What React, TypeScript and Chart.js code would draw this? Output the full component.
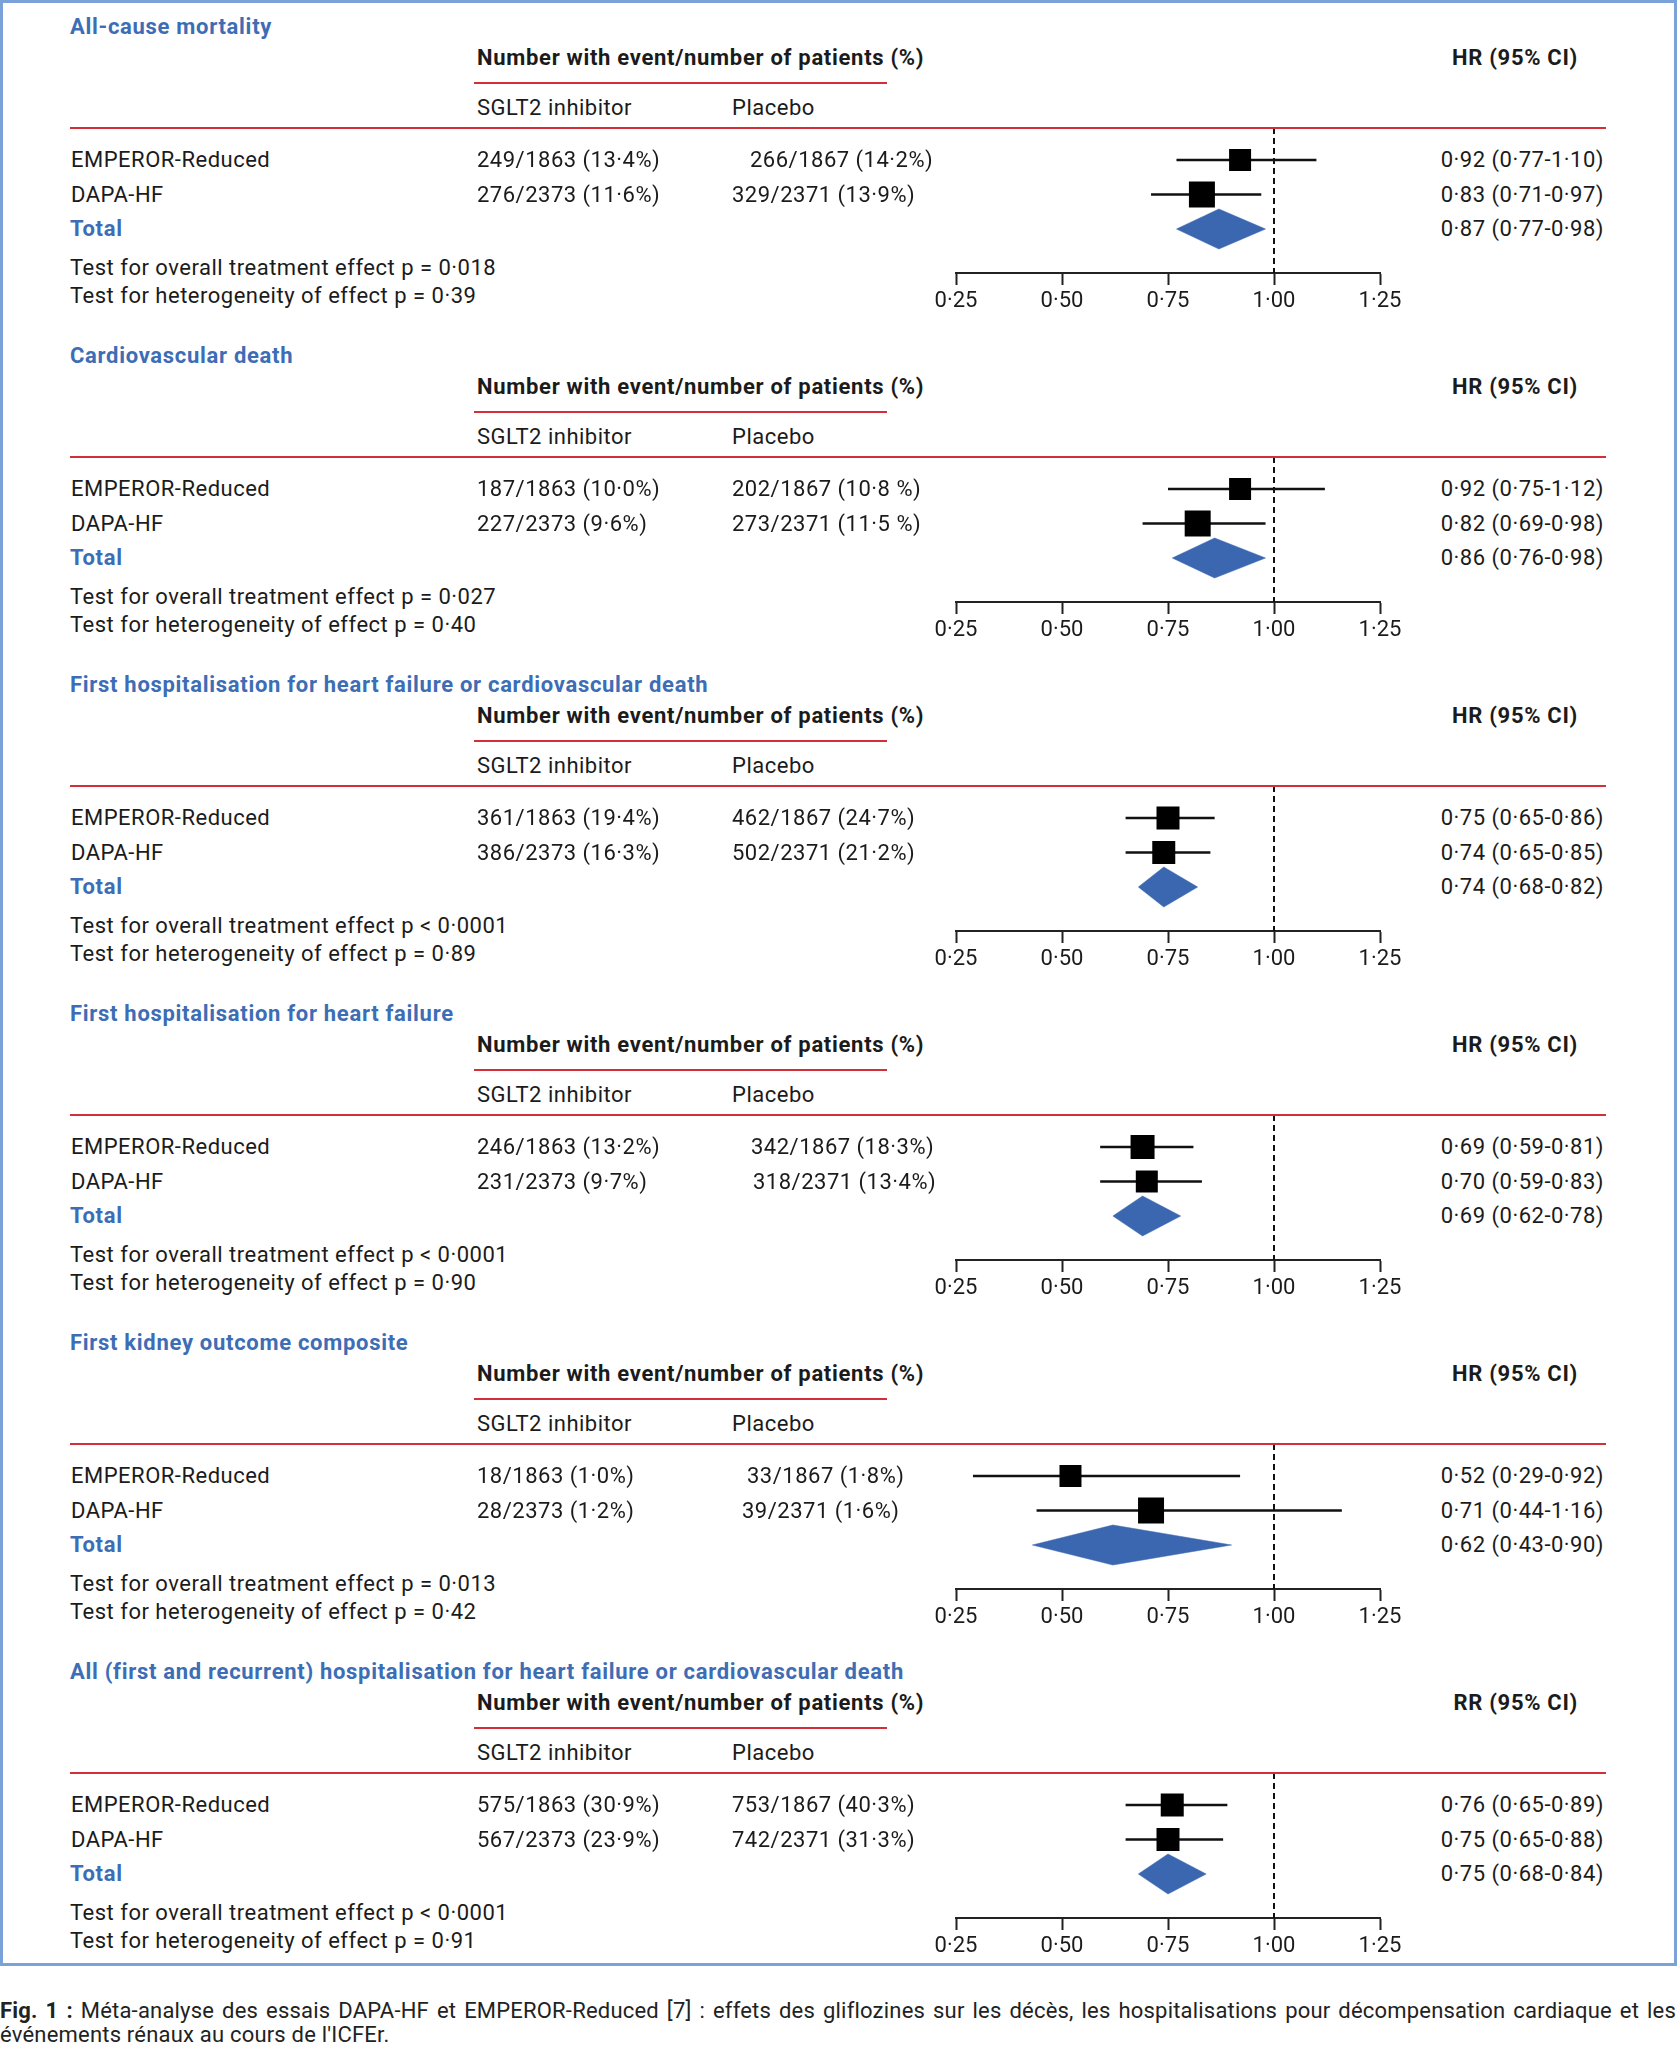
import React, { useEffect, useRef } from "react";
import { Chart, registerables } from "chart.js";

Chart.register(...registerables);

// ---------------- DATA ----------------
const outcomeTitles = [
  "All-cause mortality",
  "Cardiovascular death",
  "First hospitalisation for heart failure or cardiovascular death",
  "First hospitalisation for heart failure",
  "First kidney outcome composite",
  "All (first and recurrent) hospitalisation for heart failure or cardiovascular death",
];
const effectLabels = ["HR", "HR", "HR", "HR", "HR", "RR"];
const studyNames = ["EMPEROR-Reduced", "DAPA-HF"];
const totalLabel = "Total";
const groupHeader = "Number with event/number of patients (%)";
const armLabels = ["SGLT2 inhibitor", "Placebo"];

const sgltEvents = [
  ["249/1863 (13·4%)", "276/2373 (11·6%)"],
  ["187/1863 (10·0%)", "227/2373 (9·6%)"],
  ["361/1863 (19·4%)", "386/2373 (16·3%)"],
  ["246/1863 (13·2%)", "231/2373 (9·7%)"],
  ["18/1863 (1·0%)", "28/2373 (1·2%)"],
  ["575/1863 (30·9%)", "567/2373 (23·9%)"],
];
const placeboEvents = [
  ["266/1867 (14·2%)", "329/2371 (13·9%)"],
  ["202/1867 (10·8 %)", "273/2371 (11·5 %)"],
  ["462/1867 (24·7%)", "502/2371 (21·2%)"],
  ["342/1867 (18·3%)", "318/2371 (13·4%)"],
  ["33/1867 (1·8%)", "39/2371 (1·6%)"],
  ["753/1867 (40·3%)", "742/2371 (31·3%)"],
];

// [EMPEROR-Reduced, DAPA-HF, Total]
const hrEstimate = [
  [0.92, 0.83, 0.87],
  [0.92, 0.82, 0.86],
  [0.75, 0.74, 0.74],
  [0.69, 0.7, 0.69],
  [0.52, 0.71, 0.62],
  [0.76, 0.75, 0.75],
];
const hrLower = [
  [0.77, 0.71, 0.77],
  [0.75, 0.69, 0.76],
  [0.65, 0.65, 0.68],
  [0.59, 0.59, 0.62],
  [0.29, 0.44, 0.43],
  [0.65, 0.65, 0.68],
];
const hrUpper = [
  [1.1, 0.97, 0.98],
  [1.12, 0.98, 0.98],
  [0.86, 0.85, 0.82],
  [0.81, 0.83, 0.78],
  [0.92, 1.16, 0.9],
  [0.89, 0.88, 0.84],
];

const overallP = ["p = 0·018", "p = 0·027", "p < 0·0001", "p < 0·0001", "p = 0·013", "p < 0·0001"];
const heterogeneityP = ["p = 0·39", "p = 0·40", "p = 0·89", "p = 0·90", "p = 0·42", "p = 0·91"];

const axisTicks = [0.25, 0.5, 0.75, 1.0, 1.25];
const nullValue = 1.0;

const captionBold = "Fig. 1 :";
const captionLine1 =
  " Méta-analyse des essais DAPA-HF et EMPEROR-Reduced [7] : effets des gliflozines sur les décès, les hospitalisations pour décompensation cardiaque et les";
const captionLine2 = "événements rénaux au cours de l'ICFEr.";

// ---------------- STYLE / LAYOUT ----------------
const FONT = "Roboto, 'Noto Sans', sans-serif";
const FS = 22;
const LS = 0.5;
const LS_BOLD = 0.7;
const BLUE = "#3d6db5";
const DIAMOND = "#3b67b0";
const RED = "#d22f3b";
const INK = "#1b1b1b";
const BORDER = "#7aa2d8";

const PANEL_STEP = 329;
const ROW_STEP = 34.5;
const ROW0 = 160;
const RULE_Y = 128;
const AXIS_Y = 273;
const squareSide = [
  [22, 26],
  [22, 26],
  [23, 23],
  [24, 22],
  [22, 26],
  [23, 23],
];
const placeboX = [
  [750, 732],
  [732, 732],
  [732, 732],
  [751, 753],
  [747, 742],
  [732, 732],
];

const CANVAS_LEFT = 900;
const CANVAS_W = 536;
const PAD_X = 56;
const AXIS_H = 45;
const CHART_AREA_H = AXIS_Y - RULE_Y;
const CANVAS_H = CHART_AREA_H + AXIS_H;

const fmt = (v: number) => v.toFixed(2).replace(".", "·");

function Txt(props: {
  x: number;
  y: number;
  children: React.ReactNode;
  weight?: number;
  color?: string;
  align?: "left" | "right";
  size?: number;
}) {
  const lh = 28;
  const bold = (props.weight ?? 400) >= 600;
  const style: React.CSSProperties = {
    position: "absolute",
    top: props.y - lh / 2,
    lineHeight: lh + "px",
    fontSize: props.size ?? FS,
    fontWeight: props.weight ?? 400,
    letterSpacing: bold ? LS_BOLD : LS,
    color: props.color ?? INK,
    whiteSpace: "nowrap",
  };
  if (props.align === "right") style.right = 1678 - props.x;
  else style.left = props.x;
  return <div style={style}>{props.children}</div>;
}

function Rule(props: { x: number; y: number; w: number }) {
  return (
    <div
      style={{
        position: "absolute",
        left: props.x,
        top: props.y - 1.25,
        width: props.w,
        height: 2.5,
        background: RED,
      }}
    />
  );
}

function ForestChart({ idx, top }: { idx: number; top: number }) {
  const ref = useRef<HTMLCanvasElement>(null);
  useEffect(() => {
    if (!ref.current) return;
    const est = hrEstimate[idx];
    const lo = hrLower[idx];
    const hi = hrUpper[idx];
    const yMin = -(ROW0 - RULE_Y) / ROW_STEP;
    const yMax = 2 + (AXIS_Y - (ROW0 + 2 * ROW_STEP)) / ROW_STEP;
    const dh = 20 / ROW_STEP;

    const datasets: any[] = [];
    datasets.push({
      data: [0, 1].map((i) => ({ x: est[i], y: i })),
      showLine: false,
      pointStyle: "rect",
      pointRadius: squareSide[idx].map((s) => s / Math.SQRT2),
      pointBackgroundColor: "#000",
      pointBorderWidth: 0,
      borderWidth: 0,
    });
    datasets.push({
      data: [
        { x: lo[2], y: 2 },
        { x: est[2], y: 2 - dh },
        { x: hi[2], y: 2 },
      ],
      showLine: true,
      pointRadius: 0,
      borderWidth: 0.5,
      borderColor: DIAMOND,
      backgroundColor: DIAMOND,
      fill: "+1",
      tension: 0,
    });
    datasets.push({
      data: [
        { x: lo[2], y: 2 },
        { x: est[2], y: 2 + dh },
        { x: hi[2], y: 2 },
      ],
      showLine: true,
      pointRadius: 0,
      borderWidth: 0.5,
      borderColor: DIAMOND,
      fill: false,
      tension: 0,
    });
    [0, 1].forEach((i) => {
      datasets.push({
        data: [
          { x: lo[i], y: i },
          { x: hi[i], y: i },
        ],
        showLine: true,
        pointRadius: 0,
        borderColor: "#111",
        borderWidth: 2.5,
        fill: false,
      });
    });
    datasets.push({
      data: [
        { x: nullValue, y: yMin },
        { x: nullValue, y: yMax },
      ],
      showLine: true,
      pointRadius: 0,
      borderColor: "#111",
      borderWidth: 2,
      borderDash: [6, 4],
      fill: false,
    });

    const chart = new Chart(ref.current, {
      type: "line",
      data: { datasets },
      options: {
        animation: false,
        responsive: false,
        events: [],
        layout: { autoPadding: false, padding: { left: PAD_X, right: PAD_X, top: 0, bottom: 0 } },
        plugins: { legend: { display: false }, tooltip: { enabled: false } },
        scales: {
          x: {
            type: "linear",
            position: "bottom",
            min: axisTicks[0],
            max: axisTicks[axisTicks.length - 1],
            afterBuildTicks: (s: any) => {
              s.ticks = axisTicks.map((v) => ({ value: v }));
            },
            afterFit: (s: any) => {
              s.height = AXIS_H;
            },
            ticks: {
              callback: (v: any) => fmt(Number(v)),
              font: { family: FONT, size: FS },
              color: INK,
              padding: 3,
              maxRotation: 0,
              autoSkip: false,
            },
            grid: {
              drawOnChartArea: false,
              drawTicks: true,
              tickLength: 12,
              tickColor: "#222",
              tickWidth: 2,
              color: "#222",
            },
            border: { display: true, color: "#222", width: 2 },
          },
          y: {
            type: "linear",
            display: false,
            reverse: true,
            min: yMin,
            max: yMax,
          },
        },
      } as any,
    });
    return () => chart.destroy();
  }, [idx]);
  return (
    <canvas
      ref={ref}
      width={CANVAS_W}
      height={CANVAS_H}
      style={{ position: "absolute", left: CANVAS_LEFT, top, width: CANVAS_W, height: CANVAS_H }}
    />
  );
}

function Panel({ idx }: { idx: number }) {
  const P = idx * PANEL_STEP;
  const ciText = (k: number) =>
    `${fmt(hrEstimate[idx][k])} (${fmt(hrLower[idx][k])}-${fmt(hrUpper[idx][k])})`;
  return (
    <>
      <ForestChart idx={idx} top={P + RULE_Y} />
      <Txt x={70} y={P + 27} weight={700} color={BLUE}>
        {outcomeTitles[idx]}
      </Txt>
      <Txt x={477} y={P + 58} weight={700}>
        {groupHeader}
      </Txt>
      <Txt x={1578} y={P + 58} weight={700} align="right">
        {`${effectLabels[idx]} (95% CI)`}
      </Txt>
      <Rule x={474} y={P + 83} w={413} />
      <Txt x={477} y={P + 107.5}>
        {armLabels[0]}
      </Txt>
      <Txt x={732} y={P + 107.5}>
        {armLabels[1]}
      </Txt>
      <Rule x={70} y={P + RULE_Y} w={1536} />
      {[0, 1].map((r) => (
        <React.Fragment key={r}>
          <Txt x={71} y={P + ROW0 + r * ROW_STEP}>
            {studyNames[r]}
          </Txt>
          <Txt x={477} y={P + ROW0 + r * ROW_STEP}>
            {sgltEvents[idx][r]}
          </Txt>
          <Txt x={placeboX[idx][r]} y={P + ROW0 + r * ROW_STEP}>
            {placeboEvents[idx][r]}
          </Txt>
          <Txt x={1604} y={P + ROW0 + r * ROW_STEP} align="right">
            {ciText(r)}
          </Txt>
        </React.Fragment>
      ))}
      <Txt x={70} y={P + ROW0 + 2 * ROW_STEP} weight={700} color={BLUE}>
        {totalLabel}
      </Txt>
      <Txt x={1604} y={P + ROW0 + 2 * ROW_STEP} align="right">
        {ciText(2)}
      </Txt>
      <Txt x={70} y={P + 267.5}>
        {`Test for overall treatment effect ${overallP[idx]}`}
      </Txt>
      <Txt x={70} y={P + 296}>
        {`Test for heterogeneity of effect ${heterogeneityP[idx]}`}
      </Txt>
    </>
  );
}

export default function App() {
  const captionStyle: React.CSSProperties = {
    position: "absolute",
    left: 0,
    width: 1676,
    fontSize: 22,
    letterSpacing: 0.2,
    lineHeight: "25px",
    color: "#222",
  };
  return (
    <div
      style={{
        position: "absolute",
        left: 0,
        top: 0,
        width: 1678,
        height: 2048,
        background: "#fff",
        fontFamily: FONT,
        color: INK,
        overflow: "hidden",
      }}
    >
      <div
        style={{
          position: "absolute",
          left: 0,
          top: 0,
          width: 1677,
          height: 1966,
          border: `3px solid ${BORDER}`,
          boxSizing: "border-box",
        }}
      />
      {outcomeTitles.map((_, i) => (
        <Panel key={i} idx={i} />
      ))}
      <div
        style={{
          ...captionStyle,
          top: 1998,
          textAlign: "justify",
          textAlignLast: "justify",
        }}
      >
        <b>{captionBold}</b>
        {captionLine1}
      </div>
      <div style={{ ...captionStyle, top: 2022 }}>{captionLine2}</div>
    </div>
  );
}
